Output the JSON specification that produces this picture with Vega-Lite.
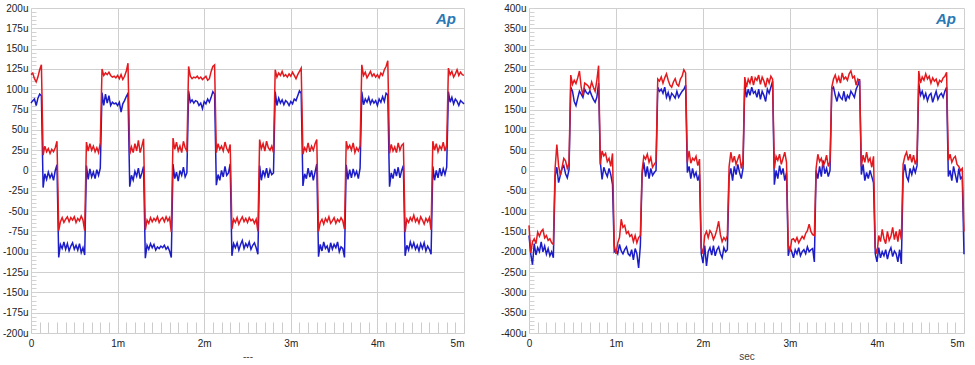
{
"$schema": "https://vega.github.io/schema/vega-lite/v6.json",
"padding": {"left": 2, "top": 3, "right": 4, "bottom": 0},
"background": "white",
"bounds": "flush",
"spacing": 65,
"config": {"view": {"stroke": null}, "font": "Liberation Sans"},
"datasets": {
"w": [
{"x":0,"a":118,"b":83,"c":-135,"d":-160},
{"x":0.02,"a":120,"b":86,"c":-203,"d":-205},
{"x":0.04,"a":113,"b":88,"c":-176,"d":-232},
{"x":0.06,"a":109,"b":80,"c":-168,"d":-180},
{"x":0.08,"a":115,"b":89,"c":-180,"d":-208},
{"x":0.1,"a":124,"b":94,"c":-152,"d":-190},
{"x":0.12,"a":130,"b":92,"c":-162,"d":-200},
{"x":0.14,"a":19,"b":-21,"c":-150,"d":-176},
{"x":0.16,"a":30,"b":-4,"c":-145,"d":-200},
{"x":0.18,"a":23,"b":-11,"c":-166,"d":-186},
{"x":0.2,"a":27,"b":-2,"c":-160,"d":-206},
{"x":0.22,"a":21,"b":-9,"c":-172,"d":-192},
{"x":0.24,"a":26,"b":-4,"c":-168,"d":-210},
{"x":0.26,"a":23,"b":-12,"c":-178,"d":-200},
{"x":0.28,"a":28,"b":0,"c":-182,"d":-215},
{"x":0.3,"a":36,"b":7,"c":5,"d":-15},
{"x":0.32,"a":-74,"b":-107,"c":64,"d":8},
{"x":0.34,"a":-63,"b":-91,"c":12,"d":-30},
{"x":0.36,"a":-58,"b":-96,"c":-12,"d":-12},
{"x":0.38,"a":-64,"b":-88,"c":8,"d":5},
{"x":0.4,"a":-60,"b":-97,"c":30,"d":12},
{"x":0.42,"a":-57,"b":-90,"c":24,"d":-8},
{"x":0.44,"a":-63,"b":-99,"c":5,"d":-18},
{"x":0.46,"a":-58,"b":-93,"c":18,"d":2},
{"x":0.48,"a":-61,"b":-89,"c":235,"d":205},
{"x":0.5,"a":-57,"b":-97,"c":212,"d":195},
{"x":0.52,"a":-64,"b":-92,"c":222,"d":170},
{"x":0.54,"a":-59,"b":-98,"c":214,"d":160},
{"x":0.56,"a":-62,"b":-90,"c":228,"d":178},
{"x":0.58,"a":-56,"b":-101,"c":245,"d":195},
{"x":0.6,"a":-61,"b":-95,"c":205,"d":188},
{"x":0.62,"a":-74,"b":-104,"c":185,"d":180},
{"x":0.64,"a":35,"b":6,"c":215,"d":200},
{"x":0.66,"a":24,"b":-11,"c":212,"d":192},
{"x":0.68,"a":33,"b":2,"c":208,"d":188},
{"x":0.7,"a":25,"b":-8,"c":200,"d":196},
{"x":0.72,"a":30,"b":-2,"c":218,"d":185},
{"x":0.74,"a":23,"b":-10,"c":205,"d":175},
{"x":0.76,"a":28,"b":1,"c":195,"d":168},
{"x":0.78,"a":22,"b":-6,"c":222,"d":180},
{"x":0.8,"a":34,"b":3,"c":258,"d":215},
{"x":0.82,"a":125,"b":96,"c":15,"d":20},
{"x":0.84,"a":117,"b":80,"c":48,"d":-22},
{"x":0.86,"a":120,"b":94,"c":36,"d":8},
{"x":0.88,"a":118,"b":83,"c":42,"d":-5},
{"x":0.9,"a":121,"b":92,"c":22,"d":-15},
{"x":0.92,"a":117,"b":80,"c":30,"d":5},
{"x":0.94,"a":115,"b":84,"c":10,"d":-10},
{"x":0.96,"a":116,"b":82,"c":42,"d":-35},
{"x":0.98,"a":114,"b":83,"c":-185,"d":-200},
{"x":1,"a":117,"b":80,"c":-205,"d":-195},
{"x":1.02,"a":113,"b":84,"c":-178,"d":-205},
{"x":1.04,"a":118,"b":72,"c":-165,"d":-182},
{"x":1.06,"a":112,"b":82,"c":-120,"d":-198},
{"x":1.08,"a":116,"b":86,"c":-140,"d":-205},
{"x":1.1,"a":122,"b":91,"c":-135,"d":-195},
{"x":1.12,"a":132,"b":95,"c":-155,"d":-188},
{"x":1.14,"a":20,"b":-20,"c":-150,"d":-205},
{"x":1.16,"a":29,"b":-6,"c":-162,"d":-210},
{"x":1.18,"a":22,"b":-12,"c":-158,"d":-195},
{"x":1.2,"a":33,"b":-1,"c":-175,"d":-220},
{"x":1.22,"a":24,"b":-7,"c":-160,"d":-192},
{"x":1.24,"a":37,"b":3,"c":-178,"d":-205},
{"x":1.26,"a":22,"b":-10,"c":-165,"d":-240},
{"x":1.28,"a":30,"b":-3,"c":-160,"d":-185},
{"x":1.3,"a":39,"b":5,"c":0,"d":-10},
{"x":1.32,"a":-73,"b":-108,"c":35,"d":20},
{"x":1.34,"a":-61,"b":-92,"c":28,"d":-15},
{"x":1.36,"a":-65,"b":-97,"c":40,"d":10},
{"x":1.38,"a":-58,"b":-90,"c":20,"d":-20},
{"x":1.4,"a":-63,"b":-95,"c":32,"d":5},
{"x":1.42,"a":-59,"b":-91,"c":8,"d":-12},
{"x":1.44,"a":-62,"b":-98,"c":15,"d":-5},
{"x":1.46,"a":-57,"b":-94,"c":22,"d":0},
{"x":1.48,"a":-64,"b":-96,"c":225,"d":205},
{"x":1.5,"a":-60,"b":-93,"c":220,"d":195},
{"x":1.52,"a":-58,"b":-95,"c":230,"d":200},
{"x":1.54,"a":-63,"b":-92,"c":215,"d":190},
{"x":1.56,"a":-57,"b":-97,"c":228,"d":205},
{"x":1.58,"a":-62,"b":-94,"c":238,"d":180},
{"x":1.6,"a":-58,"b":-99,"c":222,"d":192},
{"x":1.62,"a":-76,"b":-107,"c":210,"d":175},
{"x":1.64,"a":40,"b":8,"c":205,"d":190},
{"x":1.66,"a":26,"b":-10,"c":218,"d":185},
{"x":1.68,"a":35,"b":-2,"c":226,"d":178},
{"x":1.7,"a":24,"b":-13,"c":212,"d":195},
{"x":1.72,"a":30,"b":0,"c":208,"d":180},
{"x":1.74,"a":22,"b":-6,"c":225,"d":188},
{"x":1.76,"a":36,"b":4,"c":232,"d":195},
{"x":1.78,"a":28,"b":-8,"c":248,"d":200},
{"x":1.8,"a":24,"b":-3,"c":240,"d":210},
{"x":1.82,"a":128,"b":98,"c":20,"d":-5},
{"x":1.84,"a":116,"b":84,"c":48,"d":10},
{"x":1.86,"a":113,"b":87,"c":18,"d":-20},
{"x":1.88,"a":115,"b":83,"c":30,"d":5},
{"x":1.9,"a":114,"b":86,"c":25,"d":-15},
{"x":1.92,"a":116,"b":85,"c":35,"d":-5},
{"x":1.94,"a":113,"b":80,"c":12,"d":-25},
{"x":1.96,"a":115,"b":83,"c":28,"d":-10},
{"x":1.98,"a":112,"b":76,"c":-190,"d":-205},
{"x":2,"a":114,"b":85,"c":-205,"d":-228},
{"x":2.02,"a":116,"b":82,"c":-160,"d":-185},
{"x":2.04,"a":111,"b":88,"c":-150,"d":-235},
{"x":2.06,"a":113,"b":84,"c":-165,"d":-200},
{"x":2.08,"a":122,"b":90,"c":-148,"d":-190},
{"x":2.1,"a":128,"b":97,"c":-155,"d":-208},
{"x":2.12,"a":130,"b":94,"c":-170,"d":-185},
{"x":2.14,"a":22,"b":-18,"c":-160,"d":-210},
{"x":2.16,"a":33,"b":-5,"c":-145,"d":-195},
{"x":2.18,"a":26,"b":-12,"c":-125,"d":-188},
{"x":2.2,"a":30,"b":0,"c":-158,"d":-205},
{"x":2.22,"a":24,"b":-8,"c":-175,"d":-215},
{"x":2.24,"a":35,"b":5,"c":-165,"d":-190},
{"x":2.26,"a":27,"b":-6,"c":-172,"d":-200},
{"x":2.28,"a":23,"b":-3,"c":-160,"d":-195},
{"x":2.3,"a":32,"b":8,"c":10,"d":-15},
{"x":2.32,"a":-72,"b":-105,"c":45,"d":5},
{"x":2.34,"a":-60,"b":-90,"c":20,"d":-25},
{"x":2.36,"a":-64,"b":-95,"c":35,"d":10},
{"x":2.38,"a":-58,"b":-89,"c":15,"d":-10},
{"x":2.4,"a":-66,"b":-98,"c":28,"d":15},
{"x":2.42,"a":-61,"b":-91,"c":40,"d":-5},
{"x":2.44,"a":-57,"b":-86,"c":5,"d":-20},
{"x":2.46,"a":-63,"b":-96,"c":25,"d":5},
{"x":2.48,"a":-59,"b":-90,"c":230,"d":215},
{"x":2.5,"a":-64,"b":-94,"c":205,"d":180},
{"x":2.52,"a":-58,"b":-88,"c":225,"d":200},
{"x":2.54,"a":-62,"b":-97,"c":215,"d":185},
{"x":2.56,"a":-60,"b":-92,"c":232,"d":205},
{"x":2.58,"a":-65,"b":-89,"c":210,"d":190},
{"x":2.6,"a":-60,"b":-95,"c":228,"d":195},
{"x":2.62,"a":-75,"b":-103,"c":222,"d":180},
{"x":2.64,"a":38,"b":6,"c":235,"d":200},
{"x":2.66,"a":27,"b":-12,"c":212,"d":175},
{"x":2.68,"a":33,"b":0,"c":230,"d":195},
{"x":2.7,"a":24,"b":-7,"c":220,"d":185},
{"x":2.72,"a":36,"b":3,"c":205,"d":170},
{"x":2.74,"a":28,"b":-9,"c":228,"d":200},
{"x":2.76,"a":25,"b":1,"c":215,"d":190},
{"x":2.78,"a":30,"b":-5,"c":232,"d":205},
{"x":2.8,"a":22,"b":-3,"c":225,"d":220},
{"x":2.82,"a":124,"b":97,"c":5,"d":-35},
{"x":2.84,"a":115,"b":80,"c":35,"d":0},
{"x":2.86,"a":120,"b":89,"c":25,"d":-20},
{"x":2.88,"a":117,"b":83,"c":40,"d":12},
{"x":2.9,"a":122,"b":87,"c":15,"d":-10},
{"x":2.92,"a":116,"b":81,"c":30,"d":5},
{"x":2.94,"a":118,"b":86,"c":45,"d":-25},
{"x":2.96,"a":115,"b":84,"c":20,"d":-5},
{"x":2.98,"a":119,"b":80,"c":-185,"d":-210},
{"x":3,"a":116,"b":85,"c":-200,"d":-190},
{"x":3.02,"a":121,"b":82,"c":-170,"d":-200},
{"x":3.04,"a":117,"b":88,"c":-168,"d":-215},
{"x":3.06,"a":113,"b":86,"c":-175,"d":-195},
{"x":3.08,"a":118,"b":92,"c":-165,"d":-205},
{"x":3.1,"a":122,"b":98,"c":-178,"d":-190},
{"x":3.12,"a":126,"b":95,"c":-170,"d":-210},
{"x":3.14,"a":20,"b":-19,"c":-162,"d":-200},
{"x":3.16,"a":28,"b":-4,"c":-168,"d":-195},
{"x":3.18,"a":24,"b":-10,"c":-155,"d":-205},
{"x":3.2,"a":34,"b":3,"c":-148,"d":-188},
{"x":3.22,"a":23,"b":-8,"c":-132,"d":-200},
{"x":3.24,"a":30,"b":0,"c":-150,"d":-195},
{"x":3.26,"a":25,"b":-12,"c":-158,"d":-192},
{"x":3.28,"a":33,"b":-2,"c":-160,"d":-225},
{"x":3.3,"a":38,"b":8,"c":5,"d":0},
{"x":3.32,"a":-75,"b":-106,"c":40,"d":-20},
{"x":3.34,"a":-64,"b":-91,"c":22,"d":10},
{"x":3.36,"a":-60,"b":-99,"c":30,"d":-15},
{"x":3.38,"a":-66,"b":-88,"c":12,"d":25},
{"x":3.4,"a":-59,"b":-96,"c":20,"d":-8},
{"x":3.42,"a":-63,"b":-93,"c":38,"d":5},
{"x":3.44,"a":-57,"b":-101,"c":10,"d":-15},
{"x":3.46,"a":-65,"b":-89,"c":22,"d":0},
{"x":3.48,"a":-62,"b":-97,"c":205,"d":200},
{"x":3.5,"a":-58,"b":-91,"c":225,"d":205},
{"x":3.52,"a":-65,"b":-95,"c":235,"d":185},
{"x":3.54,"a":-60,"b":-88,"c":218,"d":170},
{"x":3.56,"a":-63,"b":-100,"c":230,"d":190},
{"x":3.58,"a":-58,"b":-94,"c":215,"d":180},
{"x":3.6,"a":-62,"b":-96,"c":240,"d":175},
{"x":3.62,"a":-72,"b":-107,"c":225,"d":195},
{"x":3.64,"a":36,"b":7,"c":230,"d":170},
{"x":3.66,"a":27,"b":-11,"c":222,"d":185},
{"x":3.68,"a":31,"b":1,"c":238,"d":178},
{"x":3.7,"a":25,"b":-9,"c":245,"d":195},
{"x":3.72,"a":34,"b":2,"c":228,"d":188},
{"x":3.74,"a":22,"b":-6,"c":232,"d":180},
{"x":3.76,"a":28,"b":-1,"c":210,"d":200},
{"x":3.78,"a":24,"b":-10,"c":225,"d":210},
{"x":3.8,"a":30,"b":3,"c":220,"d":225},
{"x":3.82,"a":130,"b":97,"c":10,"d":-10},
{"x":3.84,"a":117,"b":81,"c":38,"d":15},
{"x":3.86,"a":121,"b":88,"c":20,"d":-25},
{"x":3.88,"a":114,"b":84,"c":45,"d":-5},
{"x":3.9,"a":118,"b":90,"c":22,"d":-20},
{"x":3.92,"a":122,"b":82,"c":30,"d":0},
{"x":3.94,"a":116,"b":87,"c":8,"d":-15},
{"x":3.96,"a":119,"b":83,"c":35,"d":-30},
{"x":3.98,"a":115,"b":86,"c":-190,"d":-205},
{"x":4,"a":118,"b":80,"c":-205,"d":-225},
{"x":4.02,"a":114,"b":88,"c":-160,"d":-190},
{"x":4.04,"a":120,"b":84,"c":-175,"d":-215},
{"x":4.06,"a":117,"b":91,"c":-145,"d":-200},
{"x":4.08,"a":124,"b":85,"c":-168,"d":-210},
{"x":4.1,"a":128,"b":95,"c":-180,"d":-195},
{"x":4.12,"a":135,"b":93,"c":-150,"d":-218},
{"x":4.14,"a":21,"b":-20,"c":-172,"d":-200},
{"x":4.16,"a":32,"b":-3,"c":-162,"d":-190},
{"x":4.18,"a":24,"b":-10,"c":-140,"d":-212},
{"x":4.2,"a":29,"b":2,"c":-170,"d":-198},
{"x":4.22,"a":22,"b":-7,"c":-150,"d":-205},
{"x":4.24,"a":34,"b":4,"c":-175,"d":-225},
{"x":4.26,"a":25,"b":-9,"c":-145,"d":-195},
{"x":4.28,"a":31,"b":0,"c":-170,"d":-230},
{"x":4.3,"a":33,"b":6,"c":15,"d":-10},
{"x":4.32,"a":-76,"b":-105,"c":35,"d":15},
{"x":4.34,"a":-60,"b":-92,"c":45,"d":-15},
{"x":4.36,"a":-64,"b":-98,"c":25,"d":-25},
{"x":4.38,"a":-58,"b":-88,"c":40,"d":5},
{"x":4.4,"a":-62,"b":-95,"c":20,"d":-10},
{"x":4.42,"a":-55,"b":-89,"c":38,"d":8},
{"x":4.44,"a":-63,"b":-97,"c":15,"d":-5},
{"x":4.46,"a":-59,"b":-92,"c":30,"d":12},
{"x":4.48,"a":-65,"b":-99,"c":245,"d":215},
{"x":4.5,"a":-57,"b":-90,"c":215,"d":185},
{"x":4.52,"a":-61,"b":-96,"c":230,"d":195},
{"x":4.54,"a":-66,"b":-89,"c":222,"d":178},
{"x":4.56,"a":-59,"b":-99,"c":238,"d":190},
{"x":4.58,"a":-63,"b":-93,"c":225,"d":172},
{"x":4.6,"a":-58,"b":-97,"c":232,"d":185},
{"x":4.62,"a":-73,"b":-103,"c":215,"d":190},
{"x":4.64,"a":36,"b":5,"c":228,"d":168},
{"x":4.66,"a":25,"b":-12,"c":220,"d":182},
{"x":4.68,"a":33,"b":0,"c":225,"d":195},
{"x":4.7,"a":23,"b":-9,"c":210,"d":175},
{"x":4.72,"a":30,"b":3,"c":222,"d":185},
{"x":4.74,"a":26,"b":-7,"c":218,"d":190},
{"x":4.76,"a":35,"b":2,"c":228,"d":180},
{"x":4.78,"a":24,"b":-5,"c":232,"d":195},
{"x":4.8,"a":31,"b":4,"c":242,"d":205},
{"x":4.82,"a":126,"b":97,"c":25,"d":-15},
{"x":4.84,"a":118,"b":84,"c":40,"d":0},
{"x":4.86,"a":122,"b":90,"c":20,"d":-25},
{"x":4.88,"a":115,"b":82,"c":30,"d":10},
{"x":4.9,"a":119,"b":88,"c":35,"d":-10},
{"x":4.92,"a":124,"b":85,"c":15,"d":-30},
{"x":4.94,"a":117,"b":80,"c":10,"d":5},
{"x":4.96,"a":121,"b":86,"c":0,"d":-20},
{"x":4.98,"a":118,"b":84,"c":5,"d":-15},
{"x":5,"a":117,"b":82,"c":-150,"d":-206}
]
},
"hconcat": [
{
"width": 433,
"height": 325,
"title": {"text": "Ap", "anchor": "end", "orient": "top", "frame": "group", "offset": -24, "dx": -8, "font": "Liberation Sans", "fontStyle": "italic", "fontWeight": "bold", "fontSize": 15, "color": "#2a78b4"},
"data": {"name": "w"},
"transform": [{"fold": ["b", "a"], "as": ["s", "v"]}],
"mark": {"type": "line", "strokeWidth": 1.5},
"encoding": {
"x": {"field": "x", "type": "quantitative", "scale": {"domain": [0, 5], "nice": false, "zero": false},
"axis": {"title": "---", "values": [0,0.1,0.2,0.3,0.4,0.5,0.6,0.7,0.8,0.9,1,1.1,1.2,1.3,1.4,1.5,1.6,1.7,1.8,1.9,2,2.1,2.2,2.3,2.4,2.5,2.6,2.7,2.8,2.9,3,3.1,3.2,3.3,3.4,3.5,3.6,3.7,3.8,3.9,4,4.1,4.2,4.3,4.4,4.5,4.6,4.7,4.8,4.9,5],
"labelExpr": "abs(datum.value - round(datum.value)) < 0.001 ? (datum.value == 0 ? '0' : round(datum.value) + 'm') : ''",
"labelAlign": {"condition": {"test": "datum.value > 4.95", "value": "right"}, "value": "center"},
"labelFlush": false, "labelOverlap": false, "labelBound": false,
"labelFontSize": 10, "labelColor": "#222222", "labelPadding": 16,
"grid": true, "gridColor": "#cfcfcf",
"gridOpacity": {"condition": {"test": "abs(datum.value - round(datum.value)) < 0.001", "value": 1}, "value": 0},
"ticks": true, "tickSize": -11, "tickColor": "#cccccc", "tickWidth": 1,
"domain": false,
"titleFontSize": 10, "titleFontWeight": "normal", "titleColor": "#444444", "titlePadding": 3}},
"y": {"field": "v", "type": "quantitative", "scale": {"domain": [-200, 200], "nice": false, "zero": false},
"axis": {"title": null, "values": [-200,-195,-190,-185,-180,-175,-170,-165,-160,-155,-150,-145,-140,-135,-130,-125,-120,-115,-110,-105,-100,-95,-90,-85,-80,-75,-70,-65,-60,-55,-50,-45,-40,-35,-30,-25,-20,-15,-10,-5,0,5,10,15,20,25,30,35,40,45,50,55,60,65,70,75,80,85,90,95,100,105,110,115,120,125,130,135,140,145,150,155,160,165,170,175,180,185,190,195,200],
"labelExpr": "datum.value % 25 == 0 ? (datum.value == 0 ? '0' : datum.value + 'u') : ''",
"labelFlush": false, "labelOverlap": false, "labelBound": false,
"labelFontSize": 10, "labelColor": "#222222", "labelPadding": 8,
"grid": true, "gridColor": "#cfcfcf",
"gridOpacity": {"condition": {"test": "datum.value % 25 == 0", "value": 1}, "value": 0},
"ticks": true, "tickSize": -5, "tickColor": "#d2d2d2", "tickWidth": 1,
"domain": false}},
"color": {"field": "s", "type": "nominal", "scale": {"domain": ["b", "a"], "range": ["#1c1cc8", "#e3191e"]}, "legend": null}
}
},
{
"width": 435,
"height": 325,
"title": {"text": "Ap", "anchor": "end", "orient": "top", "frame": "group", "offset": -24, "dx": -8, "font": "Liberation Sans", "fontStyle": "italic", "fontWeight": "bold", "fontSize": 15, "color": "#2a78b4"},
"data": {"name": "w"},
"transform": [{"fold": ["d", "c"], "as": ["s", "v"]}],
"mark": {"type": "line", "strokeWidth": 1.5},
"encoding": {
"x": {"field": "x", "type": "quantitative", "scale": {"domain": [0, 5], "nice": false, "zero": false},
"axis": {"title": "sec", "values": [0,0.1,0.2,0.3,0.4,0.5,0.6,0.7,0.8,0.9,1,1.1,1.2,1.3,1.4,1.5,1.6,1.7,1.8,1.9,2,2.1,2.2,2.3,2.4,2.5,2.6,2.7,2.8,2.9,3,3.1,3.2,3.3,3.4,3.5,3.6,3.7,3.8,3.9,4,4.1,4.2,4.3,4.4,4.5,4.6,4.7,4.8,4.9,5],
"labelExpr": "abs(datum.value - round(datum.value)) < 0.001 ? (datum.value == 0 ? '0' : round(datum.value) + 'm') : ''",
"labelAlign": {"condition": {"test": "datum.value > 4.95", "value": "right"}, "value": "center"},
"labelFlush": false, "labelOverlap": false, "labelBound": false,
"labelFontSize": 10, "labelColor": "#222222", "labelPadding": 16,
"grid": true, "gridColor": "#cfcfcf",
"gridOpacity": {"condition": {"test": "abs(datum.value - round(datum.value)) < 0.001", "value": 1}, "value": 0},
"ticks": true, "tickSize": -11, "tickColor": "#cccccc", "tickWidth": 1,
"domain": false,
"titleFontSize": 10, "titleFontWeight": "normal", "titleColor": "#444444", "titlePadding": 3}},
"y": {"field": "v", "type": "quantitative", "scale": {"domain": [-400, 400], "nice": false, "zero": false},
"axis": {"title": null, "values": [-400,-390,-380,-370,-360,-350,-340,-330,-320,-310,-300,-290,-280,-270,-260,-250,-240,-230,-220,-210,-200,-190,-180,-170,-160,-150,-140,-130,-120,-110,-100,-90,-80,-70,-60,-50,-40,-30,-20,-10,0,10,20,30,40,50,60,70,80,90,100,110,120,130,140,150,160,170,180,190,200,210,220,230,240,250,260,270,280,290,300,310,320,330,340,350,360,370,380,390,400],
"labelExpr": "datum.value % 50 == 0 ? (datum.value == 0 ? '0' : datum.value + 'u') : ''",
"labelFlush": false, "labelOverlap": false, "labelBound": false,
"labelFontSize": 10, "labelColor": "#222222", "labelPadding": 8,
"grid": true, "gridColor": "#cfcfcf",
"gridOpacity": {"condition": {"test": "datum.value % 50 == 0", "value": 1}, "value": 0},
"ticks": true, "tickSize": -5, "tickColor": "#d2d2d2", "tickWidth": 1,
"domain": false}},
"color": {"field": "s", "type": "nominal", "scale": {"domain": ["d", "c"], "range": ["#1c1cc8", "#e3191e"]}, "legend": null}
}
}
]
}
